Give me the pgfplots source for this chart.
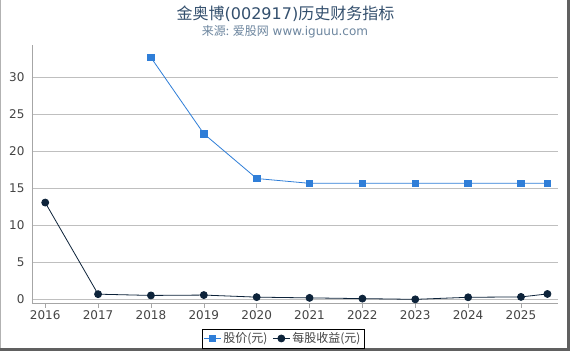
\documentclass[border=0pt]{standalone}
\usepackage{pgfplots}
\pgfplotsset{compat=1.18}
\usepackage{fontspec}
\setmainfont{DejaVu Sans}
\newfontfamily\cjk{Noto Sans CJK SC}
\definecolor{blueA}{HTML}{2F7ED8}
\definecolor{darkA}{HTML}{0D233A}
\definecolor{titleC}{HTML}{34506E}
\definecolor{subC}{HTML}{6D869F}
\definecolor{tickC}{HTML}{444444}
\begin{document}
\begin{tikzpicture}[x=1pt,y=1pt]
\fill[white] (0,0) rectangle (570,350);
\draw[gray!60, line width=1pt] (0.5,0) -- (0.5,350);
\fill[gray!75!black] (567,0) rectangle (570,350);
\fill[gray!75!black] (0,0) rectangle (570,3);
\node[titleC, font=\fontsize{16}{19}\selectfont] at (285.5,337) {{\cjk 金奥博}(002917){\cjk 历史财务指标}};
\node[subC, font=\fontsize{12}{14}\selectfont] at (285,318.5) {{\cjk 来源: 爱股网} www.iguuu.com};
\begin{axis}[
  at={(32pt,47pt)}, anchor=south west,
  scale only axis, width=526pt, height=259pt,
  xmin=2015.75, xmax=2025.7, ymin=-0.54, ymax=34.46,
  axis lines=left,
  x axis line style={-, gray!70},
  y axis line style={-, gray!70},
  xtick={2016,2017,...,2025},
  ytick={0,5,...,30},
  /pgf/number format/set thousands separator={},
  /pgf/number format/assume math mode=true,
  tick label style={tickC, font=\fontsize{12}{14}\selectfont},
  xtick style={gray!70, thin},
  ytick style={draw=none},
  tick align=outside,
  major tick length=4pt,
  ymajorgrids, grid style={gray!50, thin},
  clip=false,
  legend columns=2,
  legend style={at={(0.477,-0.135)}, anchor=center, draw=black, thin,
    font=\cjk\fontsize{12}{14}\selectfont, text=tickC,
    /tikz/every even column/.append style={column sep=3pt},
    inner sep=1.5pt},
]
\addplot[color=blueA, line width=0.8pt, mark=square*, mark size=3.3pt, mark options={fill=blueA, draw=blueA}]
 coordinates {(2018,32.7) (2019,22.4) (2020,16.35) (2021,15.7) (2022,15.7) (2023,15.7) (2024,15.7) (2025,15.7) (2025.5,15.7)};
\addlegendentry{股价(元)}
\addplot[color=darkA, line width=0.8pt, mark=*, mark size=3.5pt, mark options={fill=darkA, draw=darkA}]
 coordinates {(2016,13.1) (2017,0.72) (2018,0.55) (2019,0.6) (2020,0.32) (2021,0.22) (2022,0.12) (2023,0.02) (2024,0.3) (2025,0.35) (2025.5,0.75)};
\addlegendentry{每股收益(元)}
\end{axis}
\end{tikzpicture}
\end{document}
